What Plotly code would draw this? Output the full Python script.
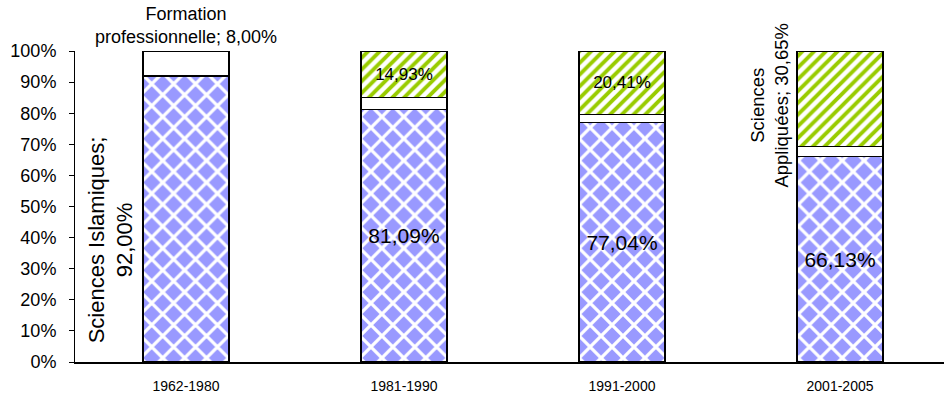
import plotly.graph_objects as go

# Enrolment share by field of study and period (percent)
periods = ["1962-1980", "1981-1990", "1991-2000", "2001-2005"]
sciences_islamiques = [92.00, 81.09, 77.04, 66.13]
formation_pro = [8.00, 3.98, 2.55, 3.22]
sciences_appliquees = [0.00, 14.93, 20.41, 30.65]

y_ticks = [0, 10, 20, 30, 40, 50, 60, 70, 80, 90, 100]

FONT = "Liberation Sans, Arial, sans-serif"
BAR_W = 0.395


def fr_pct(v):
    return f"{v:.2f}".replace(".", ",") + "%"


# Value labels shown inside segments (first / last period are labelled outside)
si_text = [""] + [fr_pct(v) for v in sciences_islamiques[1:]]
sa_text = [""] + [fr_pct(v) for v in sciences_appliquees[1:3]] + [""]

outline = dict(color="black", width=1.3)

fig = go.Figure()
fig.add_trace(go.Bar(
    name="Sciences Islamiques", x=periods, y=sciences_islamiques, width=BAR_W,
    marker=dict(color="#9999FF", line=outline,
                pattern=dict(shape="x", fgcolor="white", bgcolor="#9999FF",
                             size=15.5, solidity=0.38, fgopacity=1)),
    text=si_text, textposition="inside", insidetextanchor="middle",
    textangle=0, constraintext="none",
    textfont=dict(family=FONT, size=21, color="black"),
))
fig.add_trace(go.Bar(
    name="Formation professionnelle", x=periods, y=formation_pro, width=BAR_W,
    marker=dict(color="white", line=outline),
))
fig.add_trace(go.Bar(
    name="Sciences Appliquées", x=periods, y=sciences_appliquees, width=BAR_W,
    marker=dict(color="white", line=outline,
                pattern=dict(shape="/", fgcolor="#99CC00", bgcolor="white",
                             size=8.3, solidity=0.47, fgopacity=1)),
    text=sa_text, textposition="inside", insidetextanchor="middle",
    textangle=0, constraintext="none",
    textfont=dict(family=FONT, size=17, color="black"),
))

# Outside category labels
fig.add_annotation(
    x=0, y=100, xref="x", yref="y", yanchor="bottom", yshift=2,
    text="Formation<br>professionnelle; " + fr_pct(formation_pro[0]),
    showarrow=False, font=dict(family=FONT, size=18, color="black"),
)
fig.add_annotation(
    x=0 - BAR_W / 2, y=5.5, xref="x", yref="y", xanchor="right", yanchor="bottom",
    xshift=-3, textangle=-90,
    text="Sciences Islamiques;<br>" + fr_pct(sciences_islamiques[0]),
    showarrow=False, font=dict(family=FONT, size=22, color="black"),
)
fig.add_annotation(
    x=3 - BAR_W / 2, y=82.6, xref="x", yref="y", xanchor="right", yanchor="middle",
    xshift=-3, textangle=-90,
    text="Sciences<br>Appliquées; " + fr_pct(sciences_appliquees[3]),
    showarrow=False, font=dict(family=FONT, size=18.5, color="black"),
)

fig.update_layout(
    width=944, height=394,
    margin=dict(l=75, r=0, t=51, b=32, autoexpand=False),
    barmode="stack", showlegend=False,
    plot_bgcolor="white", paper_bgcolor="white",
    font=dict(family=FONT, color="black"),
)
fig.update_yaxes(
    range=[0, 100], tickvals=y_ticks, ticktext=[f"{t}%" for t in y_ticks],
    showgrid=False, zeroline=False, automargin=False,
    showline=True, linecolor="black", linewidth=1,
    ticks="outside", ticklen=5, tickcolor="black", tickwidth=1,
    ticklabelstandoff=9,
    tickfont=dict(family=FONT, size=18, color="black"),
)
fig.update_xaxes(
    range=[-0.509, 3.477], type="category",
    showgrid=False, zeroline=False, automargin=False,
    showline=True, linecolor="black", linewidth=2,
    ticks="", ticklabelstandoff=10,
    tickfont=dict(family=FONT, size=14, color="black"),
)

fig.write_html("out.html")
